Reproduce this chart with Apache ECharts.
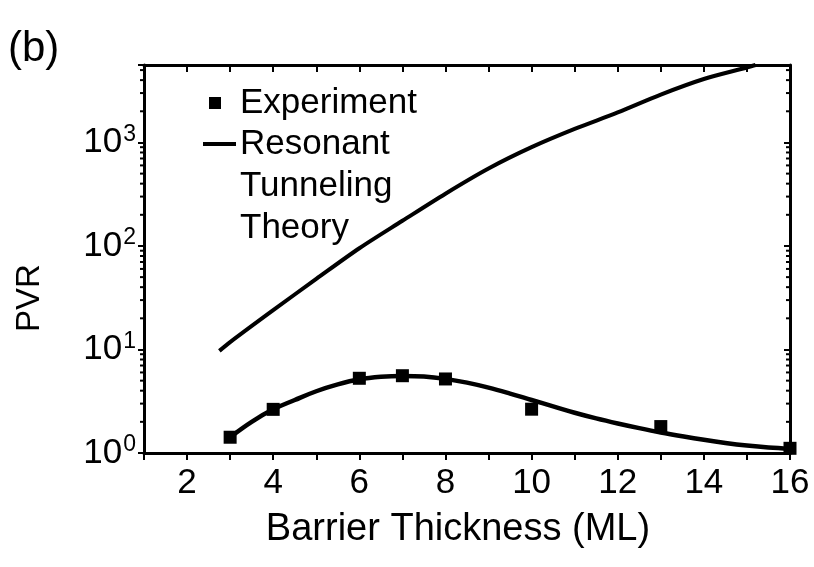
<!DOCTYPE html>
<html>
<head>
<meta charset="utf-8">
<script src="https://cdn.jsdelivr.net/npm/echarts@6/dist/echarts.min.js"></script>
<style>html,body{margin:0;padding:0;background:#fff;}#c{width:814px;height:567px;}</style>
</head>
<body>
<div id="c"></div>
<script>
// ---- data ----
const expX = [3, 4, 6, 7, 8, 10, 13, 16];
const expY = [1.42, 2.64, 5.27, 5.58, 5.19, 2.65, 1.8, 1.11];

const fitX = [3, 3.5, 4, 4.5, 5, 5.5, 6, 6.5, 7, 7.5, 8, 8.5, 9, 9.5, 10, 10.5, 11, 11.5, 12, 12.5, 13, 13.5, 14, 14.5, 15, 15.5, 16];
const fitY = [1.42, 2.0, 2.64, 3.25, 3.95, 4.6, 5.15, 5.45, 5.55, 5.48, 5.2, 4.78, 4.28, 3.75, 3.25, 2.82, 2.45, 2.16, 1.93, 1.74, 1.58, 1.45, 1.34, 1.25, 1.18, 1.13, 1.1];

const theoryX = [2.75, 3, 4, 5, 6, 7, 8, 9, 10, 11, 12, 13, 14, 15, 15.2];
const theoryY = [9.7, 11.8, 24, 48, 95, 175, 320, 560, 900, 1350, 1950, 2900, 4100, 5300, 5600];

const xTickLabels = [2, 4, 6, 8, 10, 12, 14, 16];
const yTickLabels = [1, 10, 100, 1000];
const yMinorTicks = [2,3,4,5,6,7,8,9, 20,30,40,50,60,70,80,90, 200,300,400,500,600,700,800,900, 2000,3000,4000,5000];

const X_MIN = 1, X_MAX = 16, Y_MIN = 1, Y_MAX = 5600;

const FONT = '"Liberation Sans", Arial, sans-serif';
const chart = echarts.init(document.getElementById('c'));

const supFmt = v => {
  const e = Math.log10(v);
  const r = Math.round(e);
  if (Math.abs(e - r) > 1e-6 || yTickLabels.indexOf(Math.pow(10, r)) < 0) return '';
  return '10{s|' + r + '}';
};

chart.setOption({
  animation: false,
  backgroundColor: '#fff',
  textStyle: { fontFamily: FONT, color: '#000' },
  grid: { left: 144, right: 24, top: 65, bottom: 114, containLabel: false },
  xAxis: [{
    type: 'value', min: X_MIN, max: X_MAX, interval: 1, position: 'bottom',
    axisLine: { show: true, lineStyle: { color: '#000', width: 3 } },
    axisTick: { show: true, inside: false, length: 7, lineStyle: { color: '#000', width: 2 } },
    splitLine: { show: false },
    axisLabel: {
      margin: 13, fontSize: 35, color: '#000', fontFamily: FONT,
      formatter: v => xTickLabels.indexOf(v) >= 0 ? String(v) : ''
    }
  }, {
    type: 'value', min: X_MIN, max: X_MAX, interval: 1, position: 'top',
    axisLine: { show: true, lineStyle: { color: '#000', width: 3 } },
    axisTick: { show: true, inside: true, length: 7, lineStyle: { color: '#000', width: 2 } },
    splitLine: { show: false }, axisLabel: { show: false }
  }],
  yAxis: [{
    type: 'log', logBase: 10, min: Y_MIN, max: Y_MAX, position: 'left',
    axisLine: { show: true, lineStyle: { color: '#000', width: 3 } },
    axisTick: { show: true, inside: false, length: 6, lineStyle: { color: '#000', width: 2 } },
    splitLine: { show: false },
    axisLabel: {
      margin: 8, fontSize: 35, color: '#000', fontFamily: FONT,
      formatter: supFmt,
      rich: { s: { fontSize: 23, verticalAlign: 'top', padding: [0, 0, 16, 1], fontFamily: FONT, color: '#000' } }
    }
  }, {
    type: 'log', logBase: 10, min: Y_MIN, max: Y_MAX, position: 'right',
    axisLine: { show: true, lineStyle: { color: '#000', width: 3 } },
    axisTick: { show: true, inside: true, length: 6, lineStyle: { color: '#000', width: 2 } },
    splitLine: { show: false }, axisLabel: { show: false }
  }],
  graphic: [
    { type: 'text', left: 8, top: 28, style: { text: '(b)', font: '42px ' + FONT, fill: '#000' } },
    { type: 'text', x: 13, y: 298, rotation: Math.PI / 2,
      style: { text: 'PVR', font: '33px ' + FONT, fill: '#000', align: 'center', verticalAlign: 'top' } },
    { type: 'text', x: 458, y: 530,
      style: { text: 'Barrier Thickness (ML)', font: '38px ' + FONT, fill: '#000', align: 'center', verticalAlign: 'middle' } },
    // legend
    { type: 'rect', shape: { x: 209, y: 97, width: 12, height: 12 }, style: { fill: '#000' } },
    { type: 'text', x: 240, y: 103, style: { text: 'Experiment', font: '35px ' + FONT, fill: '#000', verticalAlign: 'middle' } },
    { type: 'line', shape: { x1: 203, y1: 144, x2: 236, y2: 144 }, style: { stroke: '#000', lineWidth: 4 } },
    { type: 'text', x: 240, y: 144, style: { text: 'Resonant', font: '35px ' + FONT, fill: '#000', verticalAlign: 'middle' } },
    { type: 'text', x: 240, y: 186, style: { text: 'Tunneling', font: '35px ' + FONT, fill: '#000', verticalAlign: 'middle' } },
    { type: 'text', x: 240, y: 228, style: { text: 'Theory', font: '35px ' + FONT, fill: '#000', verticalAlign: 'middle' } }
  ],
  series: [
    {
      name: 'Resonant Tunneling Theory', type: 'line', xAxisIndex: 0, yAxisIndex: 0,
      data: theoryX.map((x, i) => [x, theoryY[i]]),
      showSymbol: false, smooth: 0.3, clip: true,
      lineStyle: { color: '#000', width: 4 }
    },
    {
      name: 'Fit', type: 'line', xAxisIndex: 0, yAxisIndex: 0,
      data: fitX.map((x, i) => [x, fitY[i]]),
      showSymbol: false, smooth: 0.4,
      lineStyle: { color: '#000', width: 4.5 }
    },
    {
      name: 'Experiment', type: 'scatter', xAxisIndex: 0, yAxisIndex: 0,
      data: expX.map((x, i) => [x, expY[i]]),
      symbol: 'rect', symbolSize: 13,
      itemStyle: { color: '#000', opacity: 1 }
    },
    {
      name: 'minorTicks', type: 'custom', xAxisIndex: 0, yAxisIndex: 0, silent: true, clip: false,
      data: yMinorTicks.map(v => [X_MIN, v]),
      encode: { x: 0, y: 1 },
      renderItem: (params, api) => {
        const v = api.value(1);
        const pL = api.coord([X_MIN, v]);
        const pR = api.coord([X_MAX, v]);
        return {
          type: 'group', children: [
            { type: 'line', shape: { x1: pL[0] - 4, y1: pL[1], x2: pL[0], y2: pL[1] }, style: { stroke: '#000', lineWidth: 2 } },
            { type: 'line', shape: { x1: pR[0] - 4, y1: pR[1], x2: pR[0], y2: pR[1] }, style: { stroke: '#000', lineWidth: 2 } }
          ]
        };
      }
    }
  ]
});
</script>
</body>
</html>
